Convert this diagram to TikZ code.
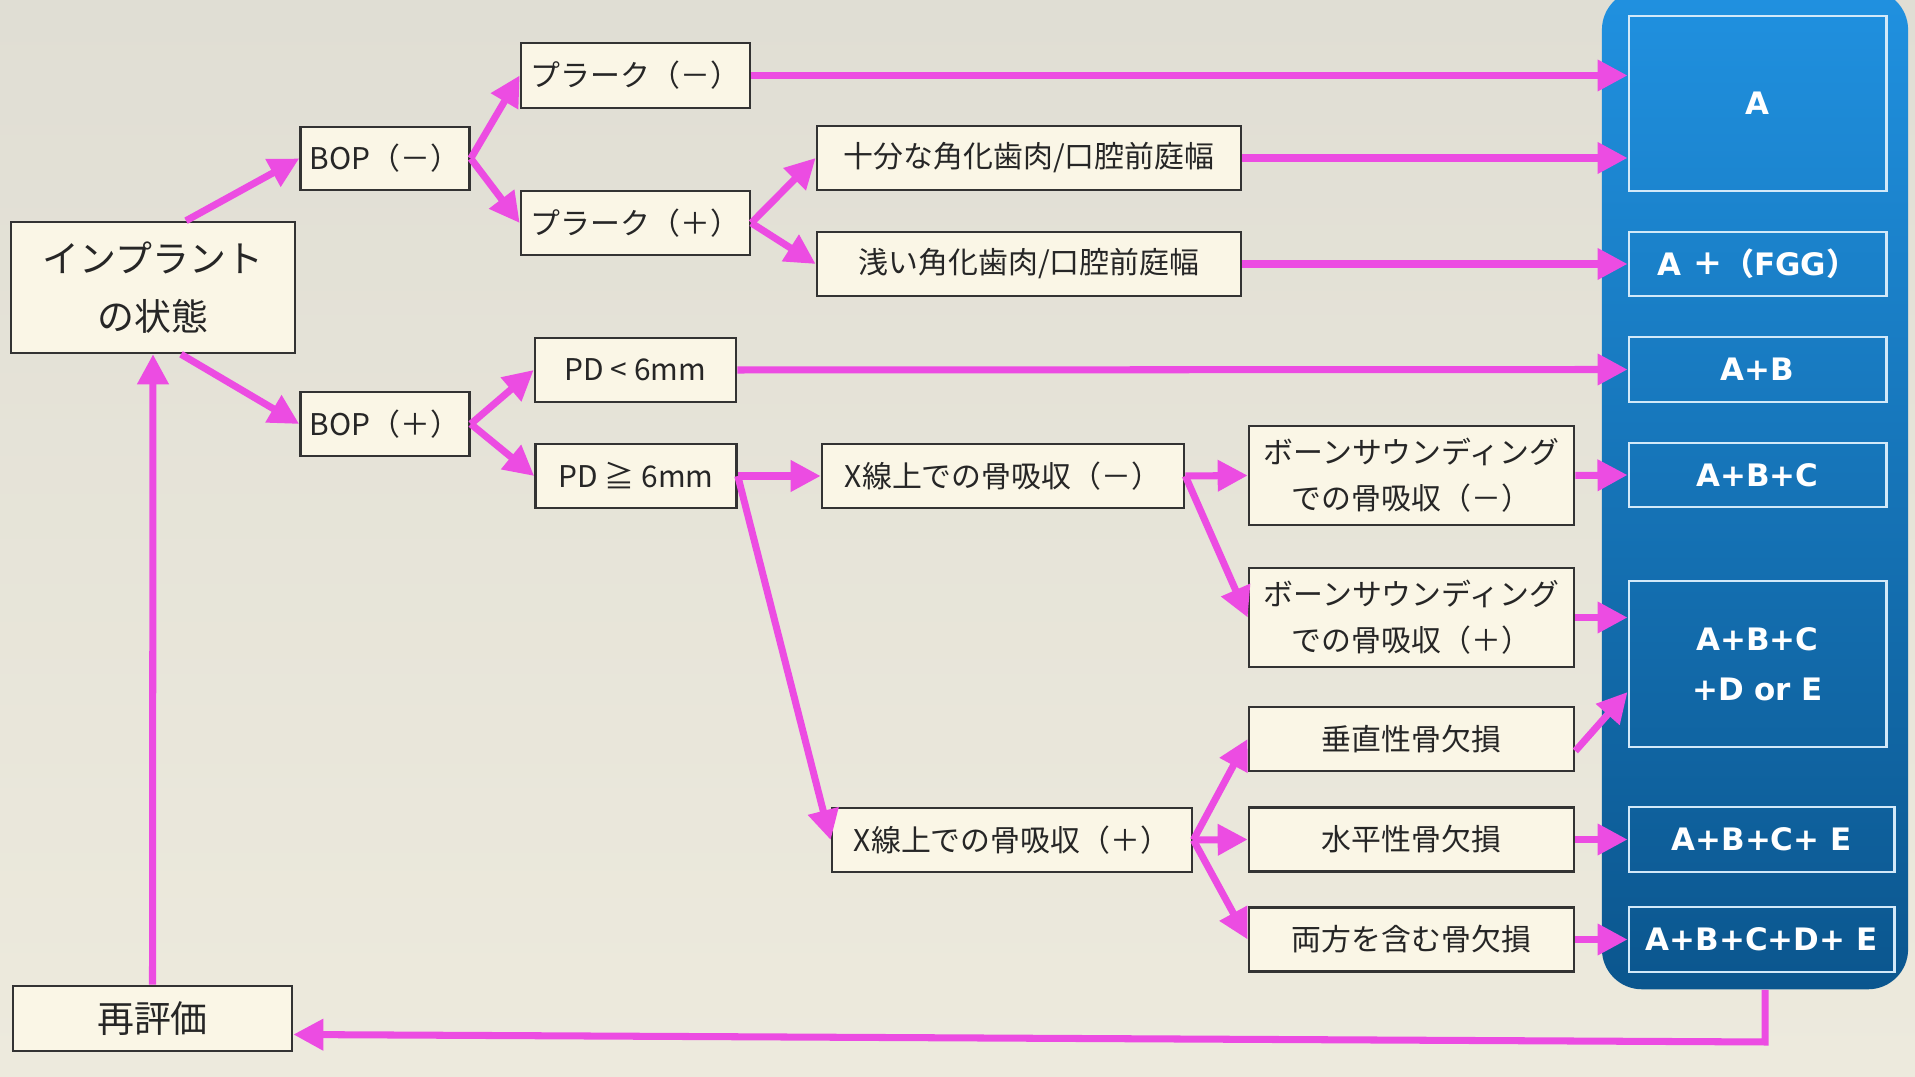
\documentclass[tikz,border=0pt]{standalone}
\usepackage{fontspec}
\newfontfamily\jp{Noto Sans CJK JP}
\newfontfamily\resf{DejaVu Sans}
\usepackage{xcolor}
\usepackage{tikz}
\usetikzlibrary{arrows.meta,positioning}

\definecolor{bgtop}{RGB}{224,222,212}
\definecolor{bgbot}{RGB}{237,234,221}
\definecolor{boxfill}{RGB}{250,246,230}
\definecolor{pinkarr}{RGB}{236,76,226}
\definecolor{paneltop}{RGB}{32,145,224}
\definecolor{panelbot}{RGB}{11,86,142}

\begin{document}
\begin{tikzpicture}[x=0.01cm, y=-0.01cm,
    box/.style={draw=black!80, fill=boxfill, line width=0.7pt, inner sep=0pt, align=center, text=black!85, font=\jp\fontsize{8.5}{13}\selectfont},
    bigbox/.style={box, font=\jp\fontsize{10.5}{16.7}\selectfont},
    res/.style={draw=white!80!paneltop, line width=0.8pt, inner sep=0pt, align=center, text=white, font=\resf\bfseries\fontsize{8.8}{14.2}\selectfont},
    arr/.style={draw=pinkarr, line width=2pt, -{Triangle[length=3mm, width=3mm]}},
  ]
  \useasboundingbox (0,0) rectangle (1915,1077);
  \shade[top color=bgtop, bottom color=bgbot] (0,0) rectangle (1915,1077);

  % right panel with the results
  \node[top color=paneltop, bottom color=panelbot, rounded corners=0.4cm, minimum width=3.06cm, minimum height=9.99cm, inner sep=0pt] (panel) at (1755,489.5) {};
  \node[res, minimum width=2.57cm, minimum height=1.75cm] (rA) at (1757.5,103.5) {A};
  \node[res, minimum width=2.57cm, minimum height=0.64cm] (rFGG) at (1757.5,264) {A {\jp\bfseries ＋（}FGG{\jp\bfseries ）}};
  \node[res, minimum width=2.57cm, minimum height=0.65cm] (rAB) at (1757.5,369.5) {A+B};
  \node[res, minimum width=2.57cm, minimum height=0.64cm] (rABC) at (1757.5,475) {A+B+C};
  \node[res, minimum width=2.57cm, minimum height=1.66cm] (rABCDE) at (1757.5,664) {A+B+C\\+D or E};
  \node[res, minimum width=2.65cm, minimum height=0.65cm] (rABCE) at (1761.5,839.5) {A+B+C+ E};
  \node[res, minimum width=2.65cm, minimum height=0.65cm] (rAll) at (1761.5,939.5) {A+B+C+D+ E};

  % decision tree
  \node[bigbox, minimum width=2.84cm, minimum height=1.31cm] (impl) at (153,287.5) {インプラント\\の状態};
  \node[box, minimum width=1.69cm, minimum height=0.63cm] (bopm) at (385,158.5) {BOP（－）};
  \node[box, minimum width=1.69cm, minimum height=0.64cm] (bopp) at (385,424) {BOP（＋）};
  \node[box, minimum width=2.29cm, minimum height=0.65cm] (plqm) at (635.5,75.5) {プラーク（－）};
  \node[box, minimum width=2.29cm, minimum height=0.64cm] (plqp) at (635.5,223) {プラーク（＋）};
  \node[box, minimum width=2.01cm, minimum height=0.64cm] (pdlt) at (635.5,370) {PD < 6mm};
  \node[box, minimum width=2.01cm, minimum height=0.64cm] (pdge) at (636,476) {PD ≧ 6mm};
  \node[box, minimum width=4.24cm, minimum height=0.64cm] (wide) at (1029,158) {十分な角化歯肉/口腔前庭幅};
  \node[box, minimum width=4.24cm, minimum height=0.64cm] (narrow) at (1029,264) {浅い角化歯肉/口腔前庭幅};
  \node[box, minimum width=3.62cm, minimum height=0.64cm] (xm) at (1003,476) {X線上での骨吸収（－）};
  \node[box, minimum width=3.60cm, minimum height=0.64cm] (xp) at (1012,840) {X線上での骨吸収（＋）};
  \node[box, minimum width=3.25cm, minimum height=0.99cm] (bsm) at (1411.5,475.5) {ボーンサウンディング\\での骨吸収（－）};
  \node[box, minimum width=3.25cm, minimum height=0.99cm] (bsp) at (1411.5,617.5) {ボーンサウンディング\\での骨吸収（＋）};
  \node[box, minimum width=3.25cm, minimum height=0.64cm] (vert) at (1411.5,739) {垂直性骨欠損};
  \node[box, minimum width=3.25cm, minimum height=0.64cm] (horiz) at (1411.5,839.5) {水平性骨欠損};
  \node[box, minimum width=3.25cm, minimum height=0.64cm] (both) at (1411.5,939.5) {両方を含む骨欠損};
  \node[bigbox, minimum width=2.79cm, minimum height=0.65cm] (reeval) at (152.5,1018.5) {再評価};

  % arrows
  \draw[arr] ([xshift=0.33cm]impl.north) -- (bopm.west);
  \draw[arr] ([xshift=0.28cm]impl.south) -- (bopp.west);
  \draw[arr] (bopm.east) -- (plqm.west);
  \draw[arr] (bopm.east) -- (plqp.west);
  \draw[arr] (plqp.east) -- (wide.west);
  \draw[arr] (plqp.east) -- (narrow.west);
  \draw[arr] (bopp.east) -- (pdlt.west);
  \draw[arr] (bopp.east) -- (pdge.west);
  \draw[arr] (plqm.east) -- (plqm.east -| rA.west);
  \draw[arr] (wide.east) -- (wide.east -| rA.west);
  \draw[arr] (narrow.east) -- (rFGG.west);
  \draw[arr] (pdlt.east) -- (rAB.west);
  \draw[arr] (pdge.east) -- (xm.west);
  \draw[arr] (pdge.east) -- (xp.west);
  \draw[arr] (xm.east) -- (bsm.west);
  \draw[arr] (xm.east) -- (bsp.west);
  \draw[arr] (xp.east) -- (vert.west);
  \draw[arr] (xp.east) -- (horiz.west);
  \draw[arr] (xp.east) -- (both.west);
  \draw[arr] (bsm.east) -- (rABC.west);
  \draw[arr] (bsp.east) -- (bsp.east -| rABCDE.west);
  \draw[arr] ([yshift=-0.12cm]vert.east) -- ([yshift=-0.28cm]rABCDE.west);
  \draw[arr] (horiz.east) -- (rABCE.west);
  \draw[arr] (both.east) -- (rAll.west);
  \draw[arr] ([xshift=0.1cm]panel.south) -- ++(0,52) -- ([yshift=-0.16cm]reeval.east);
  \draw[arr] (reeval.north) -- (impl.south);
\end{tikzpicture}
\end{document}
